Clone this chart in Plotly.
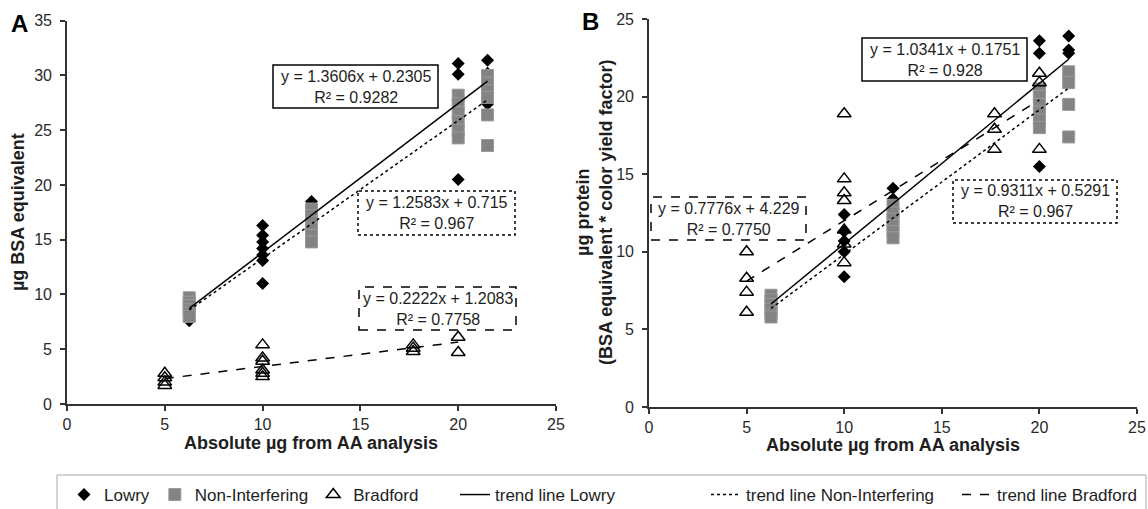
import plotly.graph_objects as go

W, H = 1148, 509

# ---------------- data: panel A (µg BSA equivalent) ----------------
lowry_A_x = [6.25, 10, 12.5, 20, 21.5]
lowry_A_y = [[7.6, 8.3, 9.1],
             [16.3, 15.4, 14.8, 14.2, 13.6, 13.1, 11.0],
             [18.5, 17.9, 16.5],
             [31.1, 30.1, 20.5],
             [31.4, 30.2, 28.9, 27.4]]
nonint_A_x = [6.25, 12.5, 20, 21.5]
nonint_A_y = [[9.7, 9.3, 9.0, 8.6, 8.3, 8.0],
              [17.8, 17.2, 16.6, 16.0, 15.4, 14.8],
              [28.2, 27.4, 26.6, 25.8, 25.0, 24.3],
              [30.0, 29.3, 28.6, 28.0, 26.4, 23.6]]
bradford_A_x = [5, 10, 17.7, 20]
bradford_A_y = [[2.8, 2.4, 2.0, 1.7],
                [5.4, 4.2, 3.9, 3.1, 2.8, 2.5],
                [5.4, 5.1, 4.8],
                [6.1, 4.7]]

# ---------------- data: panel B (µg protein) ----------------
lowry_B_x = [6.25, 10, 12.5, 20, 21.5]
lowry_B_y = [[7.2, 6.8, 6.4, 5.9],
             [12.4, 11.3, 10.7, 10.0, 8.4],
             [14.1, 13.4],
             [23.6, 22.8, 15.5],
             [23.9, 23.0, 22.8]]
nonint_B_x = [6.25, 12.5, 20, 21.5]
nonint_B_y = [[7.2, 6.9, 6.6, 6.3, 6.0, 5.8],
              [13.0, 12.5, 12.1, 11.7, 11.3, 10.9],
              [20.5, 20.0, 19.5, 19.0, 18.5, 18.0],
              [21.6, 20.9, 19.5, 17.4]]
bradford_B_x = [5, 10, 17.7, 20]
bradford_B_y = [[10.0, 8.3, 7.4, 6.1],
                [18.9, 14.7, 13.8, 13.3, 11.4, 10.5, 9.3],
                [18.9, 17.9, 16.6],
                [21.5, 20.9, 16.6]]

# trend lines: (slope, intercept, R², x-start, x-end)
trend_A = {"Lowry": (1.3606, 0.2305, "0.9282", 6.25, 21.5),
           "Non-Interfering": (1.2583, 0.715, "0.967", 6.25, 21.5),
           "Bradford": (0.2222, 1.2083, "0.7758", 5, 20)}
trend_B = {"Lowry": (1.0341, 0.1751, "0.928", 6.25, 21.5),
           "Non-Interfering": (0.9311, 0.5291, "0.967", 6.25, 21.5),
           "Bradford": (0.7776, 4.229, "0.7750", 5, 20)}

x_ticks = [0, 5, 10, 15, 20, 25]
yA_ticks = [0, 5, 10, 15, 20, 25, 30, 35]
yB_ticks = [0, 5, 10, 15, 20, 25]

FONT = "Arial, Liberation Sans, sans-serif"
TXT = "#1e1e1e"


def flat(xs, groups):
    fx, fy = [], []
    for x, vals in zip(xs, groups):
        for v in vals:
            fx.append(x)
            fy.append(v)
    return fx, fy


marker_styles = {
    "Lowry": dict(symbol="diamond", size=10, color="black", line=dict(width=0)),
    "Non-Interfering": dict(symbol="square", size=12, color="#838383",
                            line=dict(width=1, color="#9a9a9a")),
    "Bradford": dict(symbol="triangle-up-open", size=12, color="black",
                     line=dict(width=1.5, color="black")),
}
line_styles = {"Lowry": "solid", "Non-Interfering": "dot", "Bradford": "dash"}

fig = go.Figure()

panels = [
    ("x", "y", [("Lowry", lowry_A_x, lowry_A_y), ("Non-Interfering", nonint_A_x, nonint_A_y),
                ("Bradford", bradford_A_x, bradford_A_y)], trend_A, True),
    ("x2", "y2", [("Lowry", lowry_B_x, lowry_B_y), ("Non-Interfering", nonint_B_x, nonint_B_y),
                  ("Bradford", bradford_B_x, bradford_B_y)], trend_B, False),
]

for xa, ya, series, trends, show in panels:
    for name, xs, groups in series:
        fx, fy = flat(xs, groups)
        fig.add_trace(go.Scatter(x=fx, y=fy, mode="markers", name=name,
                                 legendgroup=name, showlegend=show, legend="legend",
                                 marker=marker_styles[name], xaxis=xa, yaxis=ya,
                                 hoverinfo="x+y"))

for xa, ya, series, trends, show in panels:
    for name in ["Lowry", "Non-Interfering", "Bradford"]:
        m, b, r2, x0, x1 = trends[name]
        fig.add_trace(go.Scatter(x=[x0, x1], y=[m * x0 + b, m * x1 + b], mode="lines",
                                 name="trend line " + name, legendgroup="t" + name,
                                 showlegend=show, legend="legend2",
                                 line=dict(color="black", width=1.5, dash=line_styles[name]),
                                 xaxis=xa, yaxis=ya, hoverinfo="skip"))

axis_common = dict(showline=True, linecolor="#333", linewidth=1.6, ticks="outside",
                   ticklen=5, tickwidth=1.5, tickcolor="#333", showgrid=False,
                   zeroline=False, automargin=False,
                   tickfont=dict(family=FONT, size=16, color="#2a2a2a"))
y_extra = dict(ticklabelstandoff=5)

legend_common = dict(orientation="h", y=1 - 477 / H, xanchor="left", yanchor="top",
                     borderwidth=0, bgcolor="rgba(0,0,0,0)",
                     font=dict(family=FONT, size=17, color=TXT), itemwidth=30,
                     tracegroupgap=0)

fig.update_layout(
    template="none",
    width=W, height=H,
    margin=dict(l=0, r=0, t=0, b=0, pad=0, autoexpand=False),
    plot_bgcolor="white", paper_bgcolor="white",
    font=dict(family=FONT, size=16, color=TXT),
    xaxis=dict(domain=[67 / W, 556 / W], range=[0, 25], tickvals=x_ticks, anchor="y", **axis_common),
    yaxis=dict(domain=[1 - 404 / H, 1 - 20.7 / H], range=[0, 35], tickvals=yA_ticks, anchor="x",
               **axis_common, **y_extra),
    xaxis2=dict(domain=[649 / W, 1137 / W], range=[0, 25], tickvals=x_ticks, anchor="y2", **axis_common),
    yaxis2=dict(domain=[1 - 407 / H, 1 - 19 / H], range=[0, 25], tickvals=yB_ticks, anchor="x2",
                **axis_common, **y_extra),
    showlegend=True,
    legend=dict(x=64 / W, **legend_common),
    legend2=dict(x=455 / W, entrywidth=206, **legend_common),
)

# legend frame
fig.add_shape(type="rect", xref="paper", yref="paper", x0=57 / W, x1=1146 / W,
              y0=-0.01, y1=1 - 475 / H, line=dict(color="#aaaaaa", width=1), layer="below")


def box(x0, y0, x1, y1, dash, text):
    fig.add_shape(type="rect", xref="paper", yref="paper",
                  x0=x0 / W, x1=x1 / W, y0=1 - y1 / H, y1=1 - y0 / H,
                  line=dict(color="black", width=1.5, dash=dash),
                  fillcolor="white", layer="below")
    fig.add_annotation(xref="paper", yref="paper", x=(x0 + x1) / 2 / W, y=1 - (y0 + y1) / 2 / H,
                       xanchor="center", yanchor="middle",
                       text=text, showarrow=False, align="center",
                       font=dict(family=FONT, size=16, color=TXT))


def eq(t, name):
    m, b, r2, _, _ = t[name]
    return f"y = {m}x + {b}<br>R² = {r2}"


box(273, 65, 438, 108, "solid", eq(trend_A, "Lowry"))
box(358, 191, 515, 235, "dot", eq(trend_A, "Non-Interfering"))
box(359, 287, 516, 330, "dash", eq(trend_A, "Bradford"))
box(862, 38, 1027, 81, "solid", eq(trend_B, "Lowry"))
box(953, 180, 1117, 223, "dot", eq(trend_B, "Non-Interfering"))
box(651, 197, 806, 240, "dash", eq(trend_B, "Bradford"))


def label(x, y, text, size=18, angle=0, color=TXT):
    fig.add_annotation(xref="paper", yref="paper", x=x / W, y=1 - y / H,
                       xanchor="center", yanchor="middle", text=text, showarrow=False,
                       textangle=angle, font=dict(family=FONT, size=size, color=color))


# axis titles
label(311, 443, "<b>Absolute µg from AA analysis</b>")
label(893, 445, "<b>Absolute µg from AA analysis</b>")
label(18, 212, "<b>µg BSA equivalent</b>", angle=-90)
label(594, 213, "<b>µg protein<br>(BSA equivalent * color yield factor)</b>", angle=-90)

# panel letters
label(19, 23, "<b>A</b>", size=24, color="black")
label(590, 21, "<b>B</b>", size=24, color="black")

fig.write_html("out.html", post_script="document.body.style.margin='0';",
               config={"displayModeBar": False})
